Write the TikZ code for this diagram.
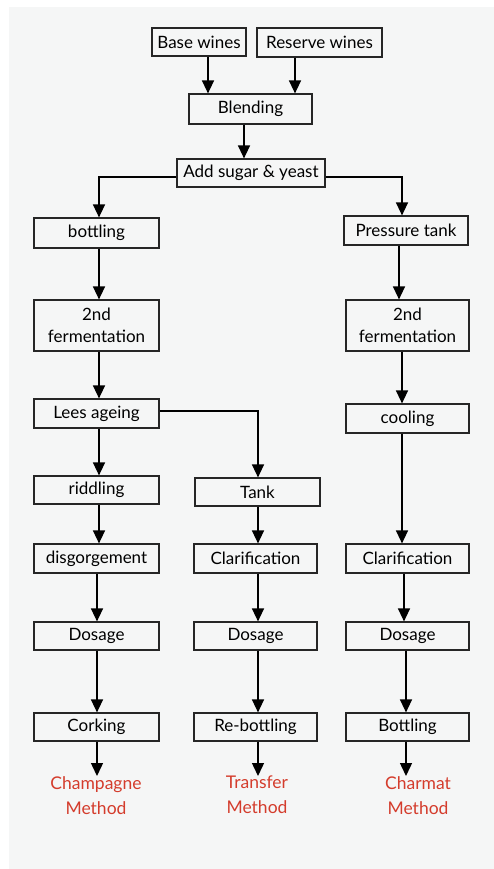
\documentclass[tikz,border=0pt]{standalone}
\usepackage{fontspec}
\setmainfont{Lato}
\usetikzlibrary{arrows.meta}
\definecolor{bg}{HTML}{F5F6F6}
\definecolor{redlab}{HTML}{D43C2C}
\begin{document}
\begin{tikzpicture}[x=1pt,y=-1pt,
  box/.style={draw=black!85,line width=1.2pt,fill=bg,inner sep=0pt,align=center,font=\fontsize{17}{22}\selectfont},
  arr/.style={line width=1.4pt,-{Triangle[width=12pt,length=13pt]}},
  lab/.style={text=redlab,inner sep=0pt,align=center,font=\fontsize{17.5}{25}\selectfont}]
\useasboundingbox (0,0) rectangle (494,869);
\fill[white] (0,0) rectangle (494,869);
\fill[bg] (9,7) rectangle (494,869);
\node[box,minimum width=94pt,minimum height=28pt] (base) at (199,42) {Base wines};
\node[box,minimum width=125pt,minimum height=29pt] (reserve) at (319.5,42.5) {Reserve wines};
\node[box,minimum width=123pt,minimum height=30pt] (blend) at (250.5,109) {Blending};
\node[box,minimum width=148pt,minimum height=28pt] (add) at (251,173) {Add sugar \& yeast};
\node[box,minimum width=125pt,minimum height=30pt] (bottl) at (96.5,233) {bottling};
\node[box,minimum width=124pt,minimum height=29pt] (ptank) at (406,230.5) {Pressure tank};
\node[box,minimum width=125pt,minimum height=51pt] (fermL) at (96.5,325.5) {2nd\\fermentation};
\node[box,minimum width=123pt,minimum height=51pt] (fermR) at (407.5,325.5) {2nd\\fermentation};
\node[box,minimum width=125pt,minimum height=29pt] (lees) at (96.5,413.5) {Lees ageing};
\node[box,minimum width=123pt,minimum height=29pt] (cool) at (407.5,418.5) {cooling};
\node[box,minimum width=125pt,minimum height=28pt] (ridd) at (96.5,490) {riddling};
\node[box,minimum width=125pt,minimum height=28pt] (tank) at (257.5,492) {Tank};
\node[box,minimum width=125pt,minimum height=29pt] (disg) at (96.5,558.5) {disgorgement};
\node[box,minimum width=123pt,minimum height=29pt] (clarM) at (255.5,558.5) {Clarification};
\node[box,minimum width=123pt,minimum height=29pt] (clarR) at (407.5,558.5) {Clarification};
\node[box,minimum width=125pt,minimum height=28pt] (dosL) at (96.5,636) {Dosage};
\node[box,minimum width=123pt,minimum height=28pt] (dosM) at (255.5,636) {Dosage};
\node[box,minimum width=123pt,minimum height=28pt] (dosR) at (407.5,636) {Dosage};
\node[box,minimum width=125pt,minimum height=28pt] (cork) at (96.5,727) {Corking};
\node[box,minimum width=123pt,minimum height=28pt] (rebot) at (255.5,727) {Re-bottling};
\node[box,minimum width=123pt,minimum height=28pt] (bot) at (407.5,727) {Bottling};
\node[lab,anchor=north] (champ) at (96,776) {Champagne\\Method};
\node[lab,anchor=north] (transf) at (257,776) {Transfer\\Method};
\node[lab,anchor=north] (charm) at (418,776) {Charmat\\Method};
% connectors
\draw[arr] ([xshift=9pt]base.south) -- ([xshift=9pt]base.south |- blend.north);
\draw[arr] ([xshift=-24.5pt]reserve.south) -- ([xshift=-24.5pt]reserve.south |- blend.north);
\draw[arr] ([xshift=-6.5pt]blend.south) -- ([xshift=-6.5pt]blend.south |- add.north);
\draw[arr] ([yshift=-4pt]add.west) -| ([xshift=2.5pt]bottl.north);
\draw[arr] ([yshift=-4pt]add.east) -| ([xshift=-4pt]ptank.north);
\draw[arr] ([xshift=2.5pt]bottl.south) -- ([xshift=2.5pt]bottl.south |- fermL.north);
\draw[arr] ([xshift=-7pt]ptank.south) -- ([xshift=-7pt]ptank.south |- fermR.north);
\draw[arr] ([xshift=2.5pt]fermL.south) -- ([xshift=2.5pt]fermL.south |- lees.north);
\draw[arr] ([xshift=-5.5pt]fermR.south) -- ([xshift=-5.5pt]fermR.south |- cool.north);
\draw[arr] ([yshift=2.5pt]lees.east) -| ([xshift=0.5pt]tank.north);
\draw[arr] ([xshift=2.5pt]lees.south) -- ([xshift=2.5pt]lees.south |- ridd.north);
\draw[arr] ([xshift=2.5pt]ridd.south) -- ([xshift=2.5pt]ridd.south |- disg.north);
\draw[arr] ([xshift=0.5pt]tank.south) -- ([xshift=0.5pt]tank.south |- clarM.north);
\draw[arr] ([xshift=-5.5pt]cool.south) -- ([xshift=-5.5pt]cool.south |- clarR.north);
\draw[arr] ([xshift=0.5pt]disg.south) -- ([xshift=0.5pt]disg.south |- dosL.north);
\draw[arr] ([xshift=2.5pt]clarM.south) -- ([xshift=2.5pt]clarM.south |- dosM.north);
\draw[arr] ([xshift=-3.5pt]clarR.south) -- ([xshift=-3.5pt]clarR.south |- dosR.north);
\draw[arr] ([xshift=0.5pt]dosL.south) -- ([xshift=0.5pt]dosL.south |- cork.north);
\draw[arr] ([xshift=2.5pt]dosM.south) -- ([xshift=2.5pt]dosM.south |- rebot.north);
\draw[arr] ([xshift=-1.5pt]dosR.south) -- ([xshift=-1.5pt]dosR.south |- bot.north);
\draw[arr] ([xshift=0.5pt]cork.south) -- ([xshift=0.5pt]cork.south |- champ.north);
\draw[arr] ([xshift=2.5pt]rebot.south) -- ([xshift=2.5pt]rebot.south |- transf.north);
\draw[arr] ([xshift=-1.5pt]bot.south) -- ([xshift=-1.5pt]bot.south |- charm.north);
\end{tikzpicture}
\end{document}
